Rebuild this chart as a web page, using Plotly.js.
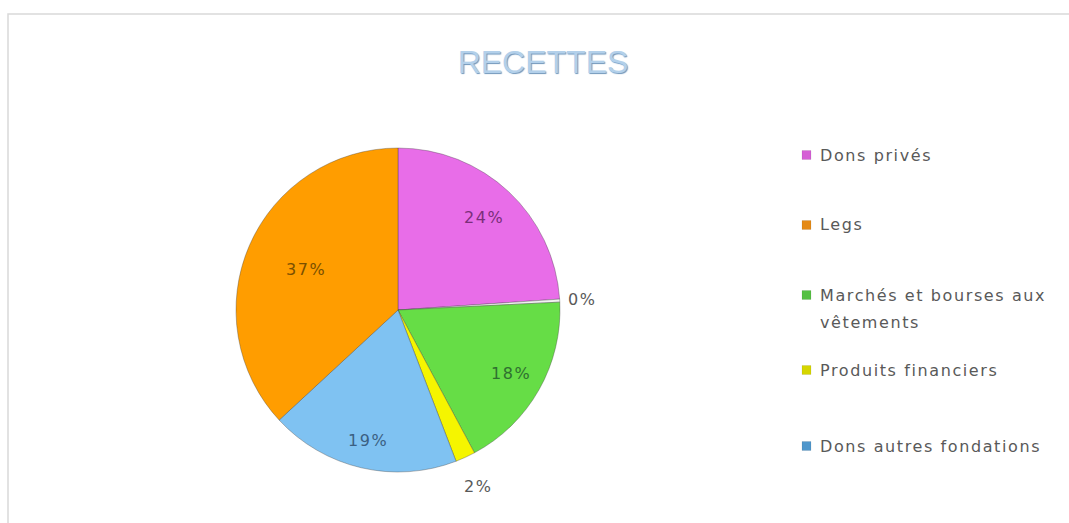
<!DOCTYPE html>
<html>
<head>
<meta charset="utf-8">
<script src="https://cdn.plot.ly/plotly-3.0.1.min.js"></script>
<style>
html,body{margin:0;padding:0;background:#fff;}
#chart{width:1069px;height:523px;}
.annotation-text{letter-spacing:1.6px;}
</style>
</head>
<body>
<div id="chart"></div>
<script>
// Slices in drawing order (clockwise from 12 o'clock)
const sliceLabels = ['Dons privés', 'Autres', 'Marchés et bourses aux vêtements', 'Produits financiers', 'Dons autres fondations', 'Legs'];
const sliceValues = [24, 0.3, 18, 2, 19, 37];
const sliceText = ['24%', '0%', '18%', '2%', '19%', '37%'];

// Legend entries as shown
const legendLabels = ['Dons privés', 'Legs', 'Marchés et bourses aux<br>vêtements', 'Produits financiers', 'Dons autres fondations'];

// Styles
const sliceColors = ['#e86de8', '#f2f2f2', '#66dd46', '#f5f500', '#7fc2f2', '#ff9d00'];
const textColors = ['#7a2f7a', '#595959', '#2f7030', '#595959', '#3b5f82', '#7a5000'];
const labelRadius = [0.78, 1.14, 0.8, 1.2, 0.83, 0.62];
const legendColors = ['#d55fd5', '#e58a16', '#55c043', '#d6d600', '#4f97cc'];
const legendTops = [155, 225, 295, 370, 446];

const W = 1069, H = 523;
const cx = 398, cy = 310, R = 162;

const pie = {
  type: 'pie',
  labels: sliceLabels,
  values: sliceValues,
  textinfo: 'none',
  sort: false,
  direction: 'clockwise',
  rotation: 0,
  showlegend: false,
  hoverinfo: 'label+percent',
  marker: { colors: sliceColors, line: { color: 'rgba(60,60,60,0.35)', width: 1 } },
  domain: { x: [(cx - R) / W, (cx + R) / W], y: [1 - (cy + R) / H, 1 - (cy - R) / H] }
};

const shapes = [{
  type: 'rect', xref: 'paper', yref: 'paper',
  x0: 8 / W, x1: 1.05, y0: -0.05, y1: 1 - 14 / H,
  line: { color: '#d9d9d9', width: 1.5 }, fillcolor: 'rgba(0,0,0,0)', layer: 'below'
}];
const annotations = [];

// Slice percentage labels placed from the slice angles
const total = sliceValues.reduce((a, b) => a + b, 0);
let cum = 0;
sliceValues.forEach((v, i) => {
  const mid = (cum + v / 2) / total * 2 * Math.PI;
  cum += v;
  const r = R * labelRadius[i];
  const px = cx + r * Math.sin(mid);
  const py = cy - r * Math.cos(mid);
  annotations.push({
    xref: 'paper', yref: 'paper', x: px / W, y: 1 - py / H,
    xanchor: 'center', yanchor: 'middle', showarrow: false,
    text: sliceText[i],
    font: { family: 'DejaVu Sans', size: 16, color: textColors[i] }
  });
});

legendLabels.forEach((lab, i) => {
  const y = legendTops[i];
  shapes.push({
    type: 'rect', xref: 'paper', yref: 'paper',
    x0: 802 / W, x1: 811 / W, y0: 1 - (y + 4.5) / H, y1: 1 - (y - 4.5) / H,
    fillcolor: legendColors[i], line: { color: 'rgba(0,0,0,0.15)', width: 0.5 }
  });
  lab.split('<br>').forEach((line, j) => {
    annotations.push({
      xref: 'paper', yref: 'paper', x: 818 / W, y: 1 - (y + j * 27) / H,
      xanchor: 'left', yanchor: 'middle', align: 'left', showarrow: false,
      text: line,
      font: { family: 'DejaVu Sans', size: 16, color: '#595959' }
    });
  });
});

const layout = {
  width: W, height: H,
  margin: { l: 0, r: 0, t: 0, b: 0 },
  paper_bgcolor: '#ffffff',
  title: {
    text: 'RECETTES', x: 543 / W, xanchor: 'center', y: 1 - 62 / H, yanchor: 'middle',
    font: { family: 'Liberation Sans', size: 32, color: '#b3d0ea', shadow: '1px 1px 1px #6f96bb' }
  },
  shapes: shapes,
  annotations: annotations
};

Plotly.newPlot('chart', [pie], layout, { staticPlot: true });
</script>
</body>
</html>
